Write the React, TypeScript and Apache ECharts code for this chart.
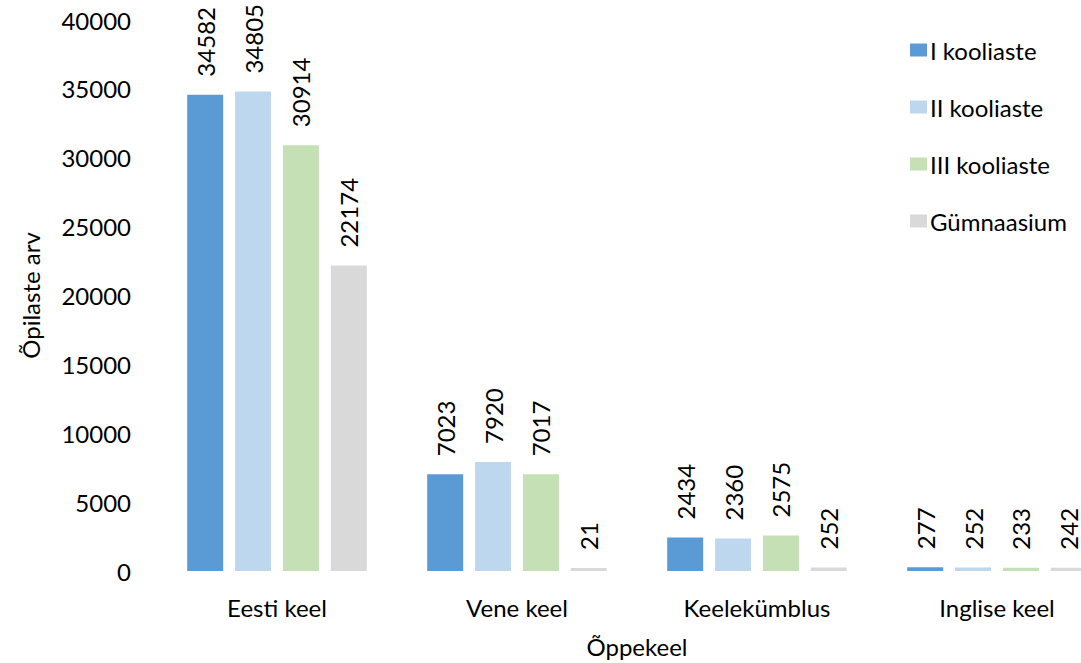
import React, { useEffect, useRef } from "react";
import * as echarts from "echarts";

const categories = ["Eesti keel", "Vene keel", "Keelekümblus", "Inglise keel"];
const seriesNames = ["I kooliaste", "II kooliaste", "III kooliaste", "Gümnaasium"];
const kooliaste1 = [34582, 7023, 2434, 277];
const kooliaste2 = [34805, 7920, 2360, 252];
const kooliaste3 = [30914, 7017, 2575, 233];
const gymnaasium = [22174, 21, 252, 242];
const colors = ["#5B9BD5", "#BDD7EE", "#C5E0B4", "#D9D9D9"];
const yMax = 40000;
const yInterval = 5000;

const FONT = "Lato";
const FS = 24;

export default function App() {
  const ref = useRef<HTMLDivElement>(null);
  useEffect(() => {
    if (!ref.current) return;
    const chart = echarts.init(ref.current, undefined, { renderer: "svg" });
    const allData = [kooliaste1, kooliaste2, kooliaste3, gymnaasium];
    chart.setOption({
      animation: false,
      backgroundColor: "#ffffff",
      textStyle: { fontFamily: FONT, color: "#000" },
      grid: { left: 157, width: 960, top: 20, bottom: 90, containLabel: false },
      legend: {
        orient: "vertical",
        left: 905,
        top: 33,
        itemWidth: 17,
        itemHeight: 13,
        itemGap: 33,
        icon: "rect",
        textStyle: { fontFamily: FONT, fontSize: FS, color: "#000", lineHeight: 24, padding: [0, 0, 0, -2] },
        data: seriesNames,
      },
      xAxis: {
        type: "category",
        data: categories,
        axisLine: { show: false },
        axisTick: { show: false },
        axisLabel: { fontFamily: FONT, fontSize: FS, color: "#000", margin: 24 },
        name: "Õppekeel",
        nameLocation: "middle",
        nameGap: 63,
        nameTextStyle: { fontFamily: FONT, fontSize: FS, color: "#000" },
      },
      yAxis: {
        type: "value",
        min: 0,
        max: yMax,
        interval: yInterval,
        axisLine: { show: false },
        axisTick: { show: false },
        splitLine: { show: false },
        axisLabel: {
          fontFamily: FONT,
          fontSize: FS,
          color: "#000",
          margin: 26,
          formatter: (v: number) => String(v),
        },
        name: "Õpilaste arv",
        nameLocation: "middle",
        nameGap: 115,
        nameTextStyle: { fontFamily: FONT, fontSize: FS, color: "#000" },
      },
      series: seriesNames.map((name, i) => ({
        name,
        type: "bar",
        data: allData[i],
        barWidth: 36,
        barGap: "33%",
        barMinHeight: 3,
        itemStyle: { color: colors[i] },
        label: {
          show: true,
          position: "top",
          rotate: 90,
          align: "left",
          verticalAlign: "middle",
          distance: 18,
          fontFamily: FONT,
          fontSize: FS,
          color: "#000",
        },
      })),
    });
    return () => chart.dispose();
  }, []);
  return (
    <div
      style={{
        position: "absolute",
        left: 0,
        top: 0,
        width: 1081,
        height: 663,
        overflow: "hidden",
        background: "#ffffff",
      }}
    >
      <div ref={ref} style={{ width: 1140, height: 663 }} />
    </div>
  );
}
